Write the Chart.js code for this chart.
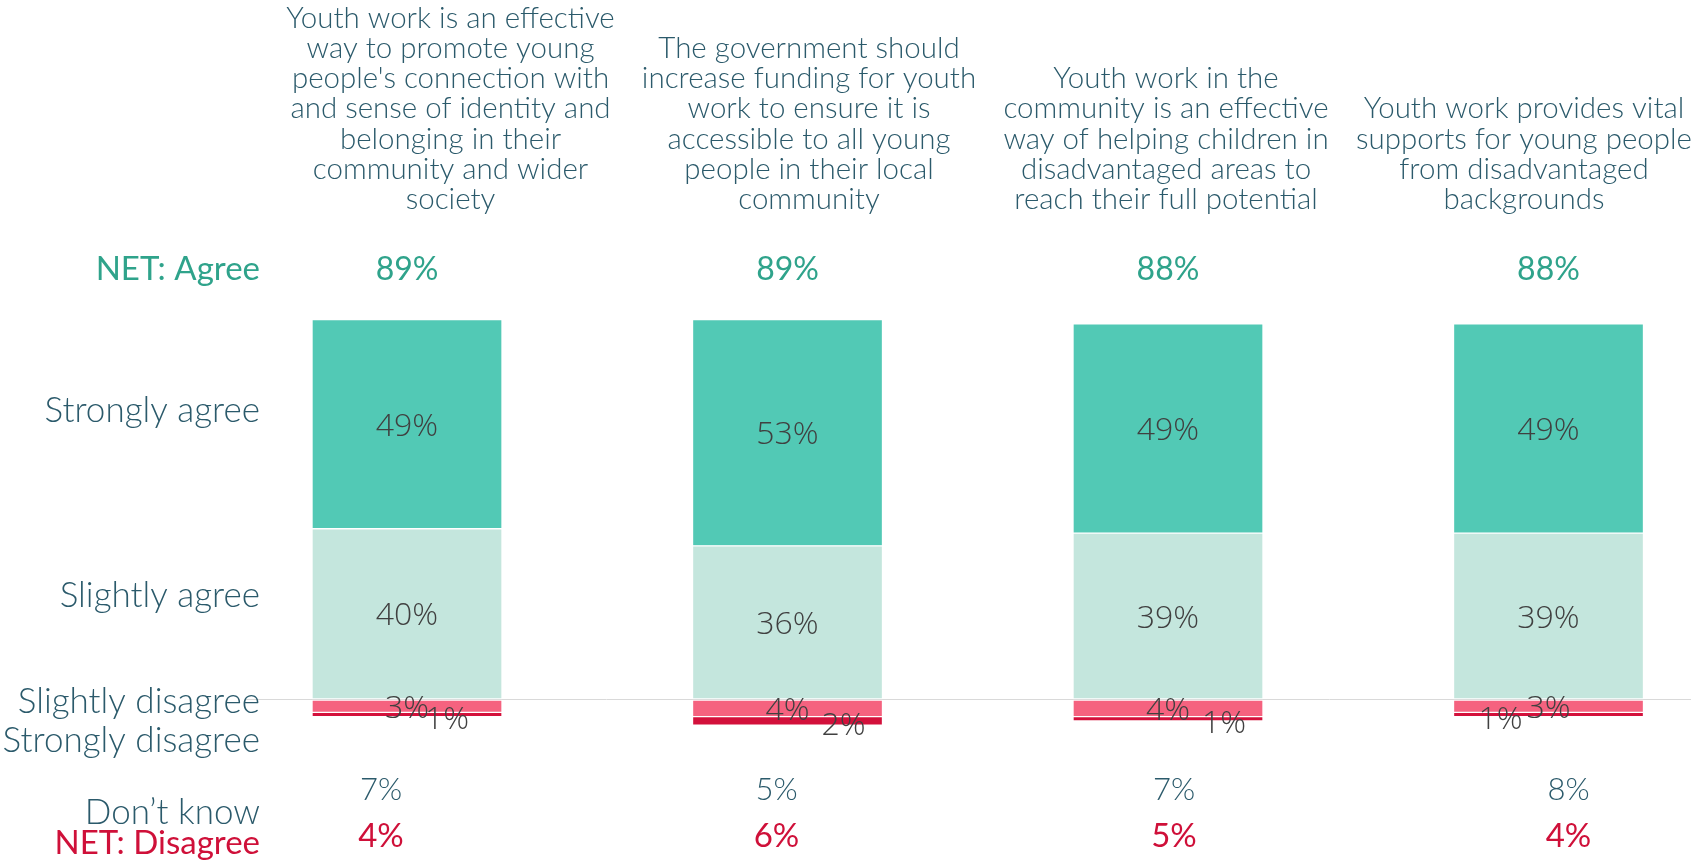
<!DOCTYPE html>
<html><head><meta charset="utf-8">
<script src="https://cdn.jsdelivr.net/npm/chart.js@4.4.1/dist/chart.umd.min.js"></script>
<style>html,body{margin:0;padding:0;background:#fff;overflow:hidden}canvas{display:block}</style>
</head><body>
<canvas id="c" width="1691" height="866"></canvas>
<script>
// ---------- data ----------
const categories = [
  ["Youth work is an effective","way to promote young","people's connection with","and sense of identity and","belonging in their","community and wider","society"],
  ["The government should","increase funding for youth","work to ensure it is","accessible to all young","people in their local","community"],
  ["Youth work in the","community is an effective","way of helping children in","disadvantaged areas to","reach their full potential"],
  ["Youth work provides vital","supports for young people","from disadvantaged","backgrounds"]
];
const rowLabels = ["NET: Agree","Strongly agree","Slightly agree","Slightly disagree","Strongly disagree","Don’t know","NET: Disagree"];
const stronglyAgree    = [49, 53, 49, 49];
const slightlyAgree    = [40, 36, 39, 39];
const slightlyDisagree = [3, 4, 4, 3];
const stronglyDisagree = [1, 2, 1, 1];
const dontKnow         = [7, 5, 7, 8];
const netAgree         = [89, 89, 88, 88];
const netDisagree      = [4, 6, 5, 4];

// ---------- style ----------
const C = {sa:'#52c9b5', la:'#c4e6dd', ld:'#f5627f', sd:'#d3103b', dark:'#2b5a6b', teal:'#2fa38b', red:'#cf1039', label:'#404040', grid:'#d9d9d9'};
const titleDx  = [43.5, 21.5, -2, -24.5];
const bottomDx = [-26, -11, 6, 20];
const sdLabelDx = [40, 56, 56, -48];
const LABEL_SIZE = 32;

function capText(ctx, txt, x, cy, size, weight, family, color, align){
  ctx.font = weight + ' ' + size + 'px ' + family;
  ctx.fillStyle = color;
  ctx.textAlign = align;
  ctx.textBaseline = 'alphabetic';
  ctx.fillText(txt, x, cy + 0.358*size);
}

const textPlugin = {
  id: 'texts',
  afterDatasetsDraw(chart){
    const ctx = chart.ctx;
    ctx.save();
    chart.data.datasets.forEach((ds, di) => {
      const meta = chart.getDatasetMeta(di);
      meta.data.forEach((bar, i) => {
        const p = bar.getProps(['x','y','base'], true);
        const cy = (p.y + p.base)/2;
        let dx = 0, dy = 0;
        if (ds.key === 'sd') { dx = sdLabelDx[i]; dy = 3; }
        capText(ctx, Math.abs(ds.data[i].y) + '%', p.x + dx, cy + dy, LABEL_SIZE, '300', '"Open Sans"', C.label, 'center');
      });
    });
    ctx.restore();
  },
  afterDraw(chart){
    const ctx = chart.ctx;
    const xs = chart.scales.x;
    ctx.save();
    // column titles
    categories.forEach((lines, i) => {
      const x = xs.getPixelForValue(i) + titleDx[i];
      const n = lines.length;
      ctx.font = '300 29.5px Lato';
      ctx.fillStyle = C.dark;
      ctx.textAlign = 'center';
      ctx.textBaseline = 'alphabetic';
      lines.forEach((ln, j) => ctx.fillText(ln, x, 209 - (n-1-j)*30.2));
    });
    // row labels
    const rowY = [268.5, 409, 594, 700.5, 739, 811, 842];
    rowLabels.forEach((t, k) => {
      let color = C.dark, weight = '300', size = 35;
      if (k === 0) { color = C.teal; weight = '400'; size = 33; }
      if (k === 6) { color = C.red; weight = '400'; size = 33; }
      capText(ctx, t, 260, rowY[k], size, weight, 'Lato', color, 'right');
    });
    // value rows
    netAgree.forEach((v, i) => capText(ctx, v + '%', xs.getPixelForValue(i), 269, 32, '400', 'Lato', C.teal, 'center'));
    dontKnow.forEach((v, i) => capText(ctx, v + '%', xs.getPixelForValue(i) + bottomDx[i], 789, 31, '300', 'Lato', C.dark, 'center'));
    netDisagree.forEach((v, i) => capText(ctx, v + '%', xs.getPixelForValue(i) + bottomDx[i], 835, 33, '400', 'Lato', C.red, 'center'));
    ctx.restore();
  }
};

const toPts = (arr, sign) => arr.map((v, i) => ({x: i, y: sign*v}));
const common = {barThickness: 190, borderWidth: 1, borderColor: '#ffffff', borderSkipped: false, stack: 's'};

new Chart(document.getElementById('c'), {
  type: 'bar',
  data: {
    datasets: [
      Object.assign({key:'la', label:'Slightly agree', data: toPts(slightlyAgree, 1), backgroundColor: C.la}, common),
      Object.assign({key:'sa', label:'Strongly agree', data: toPts(stronglyAgree, 1), backgroundColor: C.sa}, common),
      Object.assign({key:'ld', label:'Slightly disagree', data: toPts(slightlyDisagree, -1), backgroundColor: C.ld}, common),
      Object.assign({key:'sd', label:'Strongly disagree', data: toPts(stronglyDisagree, -1), backgroundColor: C.sd}, common)
    ]
  },
  options: {
    responsive: false,
    animation: false,
    layout: {padding: {left: 245, right: 0, top: 230, bottom: 0}},
    plugins: {legend: {display: false}, tooltip: {enabled: false}},
    scales: {
      x: {type: 'linear', min: -0.4258, max: 3.3745, offset: false, stacked: true, display: false},
      y: {stacked: true, min: -39, max: 110, display: true,
          ticks: {display: false},
          grid: {color: C.grid, lineWidth: 1, drawTicks: false},
          border: {display: false},
          afterBuildTicks: s => { s.ticks = [{value: 0}]; }}
    }
  },
  plugins: [textPlugin]
});
</script>
</body></html>
